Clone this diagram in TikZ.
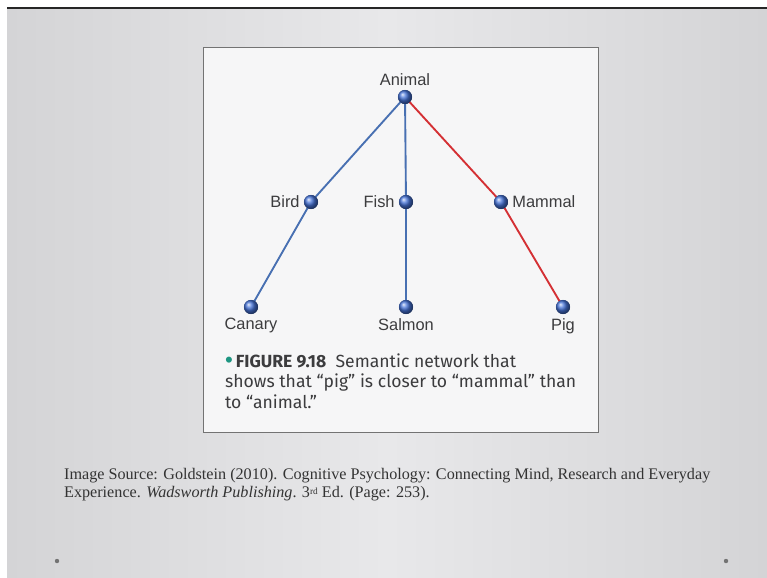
\documentclass[tikz,border=0pt]{standalone}
\usepackage{fontspec}
\setmainfont{Liberation Serif}
\newfontfamily\labelfont{Liberation Sans}
\newfontfamily\capfont{Fira Sans}
\usepackage{tikz}
\usetikzlibrary{shapes,positioning,calc}
\definecolor{slidegray}{RGB}{232,232,234}
\definecolor{slideedge}{RGB}{212,212,214}
\definecolor{linkblue}{RGB}{72,112,178}
\definecolor{ballblue}{RGB}{70,115,215}
\definecolor{linkred}{RGB}{212,48,52}
\definecolor{teal}{RGB}{30,150,130}
\definecolor{labelgray}{RGB}{60,60,62}
\tikzstyle{concetto} = [circle, inner sep=0pt, minimum size=12pt, ball color=ballblue, label distance=2pt]
\tikzstyle{etichetta} = [labelgray, font=\labelfont\fontsize{14}{16}\selectfont]
\tikzstyle{link} = [line width=1.6pt, draw=linkblue]
\tikzstyle{linkrosso} = [line width=1.6pt, draw=linkred]

\begin{document}
\begin{tikzpicture}[x=0.03cm,y=-0.03cm]
						\useasboundingbox (0,0) rectangle (767,577);
						\fill[white] (0,0) rectangle (767,9);
						\shade[left color=slideedge, right color=slideedge, middle color=slidegray] (7,9) rectangle (767,577);
						\fill[white] (0,9) rectangle (7,577);
						\draw[line width=1.4pt, black!85] (7,8) -- (767,8);
						\draw[line width=0.8pt, black!55, fill=slidegray!40!white] (203,47) rectangle (598,432);
						\node (animal) at (405,97) [concetto, label={[etichetta]above:Animal}] {};
						\node (bird) at (311,202) [concetto, label={[etichetta]left:Bird}] {};
						\node (fish) at (406,202) [concetto, label={[etichetta]left:Fish}] {};
						\node (mammal) at (501,202) [concetto, label={[etichetta]right:Mammal}] {};
						\node (canary) at (251,307) [concetto, label={[etichetta]below:Canary}] {};
						\node (salmon) at (406,307) [concetto, label={[etichetta]below:Salmon}] {};
						\node (pig) at (563,307) [concetto, label={[etichetta]below:Pig}] {};
						\draw[link] (animal.center) -- (bird.center) -- (canary.center);
						\draw[link] (animal.center) -- (fish.center) -- (salmon.center);
						\draw[linkrosso] (animal.center) -- (mammal.center) -- (pig.center);
						\foreach \n in {animal,bird,fish,mammal,canary,salmon,pig}
							\node at (\n) [concetto] {};
						\node (didascalia) at (221,381) [anchor=west, align=left, text=labelgray, font=\capfont\fontsize{15}{17.5}\selectfont] {{\color{teal}\labelfont\fontsize{19}{17.5}\selectfont\textbullet}\,\textbf{FIGURE 9.18}\ \ Semantic network that\\shows that “pig” is closer to “mammal” than\\to “animal.”};
						\node (fonte) at (60,484.5) [anchor=west, align=left, text=black!80, font=\fontsize{13.8}{15}\selectfont] {Image Source: Goldstein (2010). Cognitive Psychology: Connecting Mind, Research and Everyday\\Experience. \textit{Wadsworth Publishing}. 3{\fontsize{8}{8}\selectfont\raisebox{0.6ex}{rd}} Ed. (Page: 253).};
						\fill[black!55] (57,561) circle (2.2);
						\fill[black!55] (726,561) circle (2.2);
					\end{tikzpicture}
\end{document}
